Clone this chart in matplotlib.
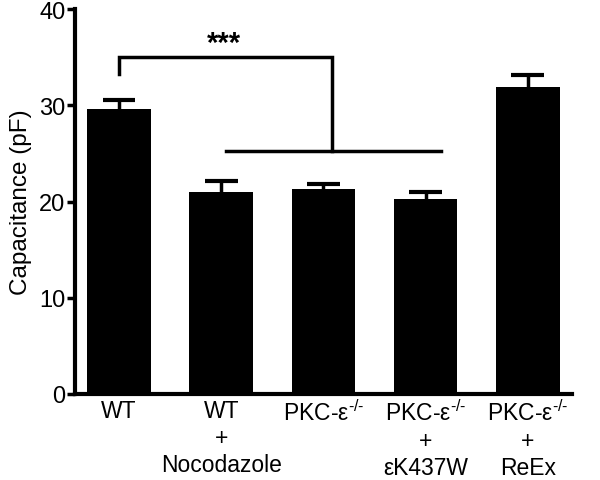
import matplotlib
matplotlib.use("Agg")
import matplotlib.pyplot as plt

plt.rcParams['font.family'] = ['Liberation Sans', 'DejaVu Sans']
plt.rcParams['mathtext.fontset'] = 'custom'
plt.rcParams['mathtext.rm'] = 'Liberation Sans'
plt.rcParams['mathtext.it'] = 'Liberation Sans'

categories = ["WT", "WT\n+\nNocodazole", "PKC-ε$^{\\text{-/-}}$",
              "PKC-ε$^{\\text{-/-}}$\n+\nεK437W", "PKC-ε$^{\\text{-/-}}$\n+\nReEx"]
values = [29.6, 21.0, 21.3, 20.3, 31.9]
errors = [1.0, 1.1, 0.5, 0.7, 1.3]
yticks = [0, 10, 20, 30, 40]

fig = plt.figure(figsize=(6, 4.81), dpi=100)
ax = fig.add_axes([0.125, 0.179, 0.828, 0.800])

x = list(range(len(categories)))
ax.bar(x, values, width=0.62, color='black', zorder=2)
tops = [v + e for v, e in zip(values, errors)]
ax.vlines(x, values, tops, color='black', lw=2.5, zorder=1)
ax.hlines(tops, [i - 0.16 for i in x], [i + 0.16 for i in x], color='black', lw=3, zorder=1)

# significance bracket
ax.plot([0, 0, 2.08, 2.08], [33.3, 35.0, 35.0, 25.2], color='black', lw=2.5,
        solid_joinstyle='miter', clip_on=False)
ax.plot([1.05, 3.15], [25.2, 25.2], color='black', lw=2.5)
ax.text(1.03, 35.7, "***", ha='center', va='baseline', fontsize=21, fontweight='bold')

ax.set_xlim(-0.43, 4.43)
ax.set_ylim(0, 40)
ax.set_yticks(yticks)
ax.set_yticklabels([str(t) for t in yticks], fontsize=17)
ax.set_xticks(x)
ax.set_xticklabels(categories, fontsize=16.5, linespacing=1.21)
ax.tick_params(axis='x', length=0, pad=4)
ax.tick_params(axis='y', length=6, width=2.5, pad=1)
for s in ['top', 'right']:
    ax.spines[s].set_visible(False)
for s in ['left', 'bottom']:
    ax.spines[s].set_linewidth(3)
ax.set_ylabel("Capacitance (pF)", fontsize=17.5, labelpad=5)

fig.savefig("out.png", dpi=100)
